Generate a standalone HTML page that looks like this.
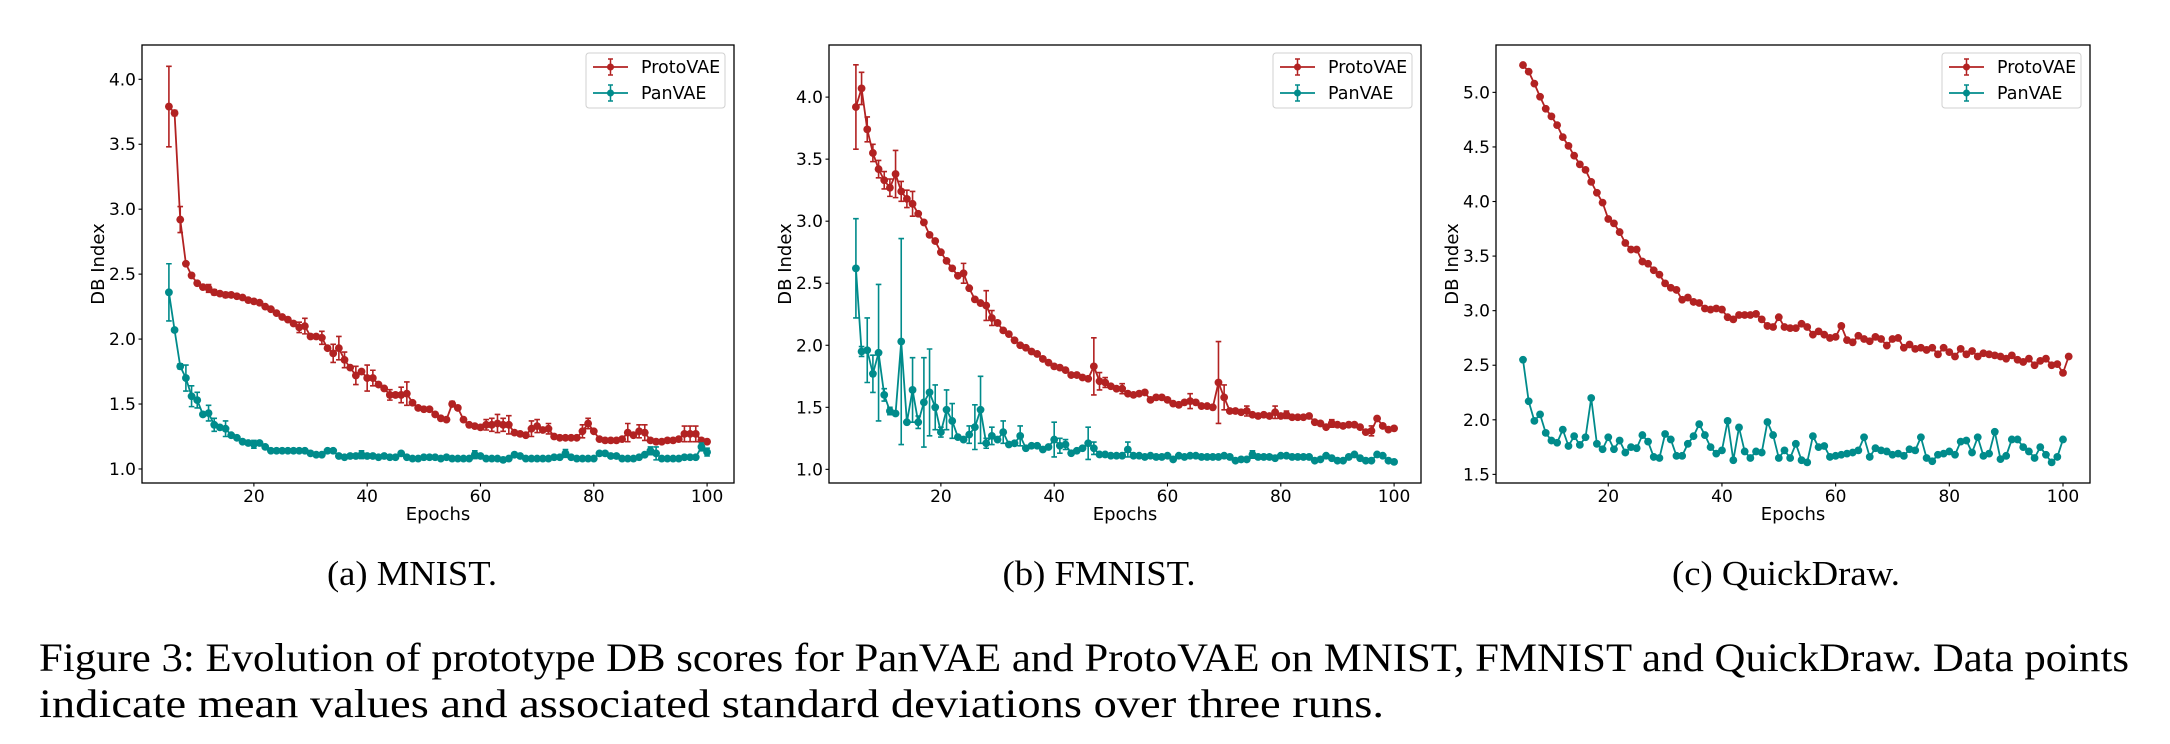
<!DOCTYPE html>
<html><head><meta charset="utf-8"><title>DB Index evolution</title>
<style>html,body{margin:0;padding:0;background:#fff;}svg{display:block;}</style></head>
<body>
<svg id="fig" xmlns="http://www.w3.org/2000/svg" width="2170" height="744" viewBox="0 0 2170 744" font-family="DejaVu Sans, Liberation Sans, sans-serif">
<g id="charts"></g>
<text x="412" y="585" text-anchor="middle" font-family="Liberation Serif, serif" font-size="35" textLength="170" lengthAdjust="spacingAndGlyphs">(a) MNIST.</text>
<text x="1099" y="585" text-anchor="middle" font-family="Liberation Serif, serif" font-size="35" textLength="193" lengthAdjust="spacingAndGlyphs">(b) FMNIST.</text>
<text x="1786" y="585" text-anchor="middle" font-family="Liberation Serif, serif" font-size="35" textLength="228" lengthAdjust="spacingAndGlyphs">(c) QuickDraw.</text>
<text x="39" y="671" font-family="Liberation Serif, serif" font-size="40" textLength="2090" lengthAdjust="spacingAndGlyphs">Figure 3: Evolution of prototype DB scores for PanVAE and ProtoVAE on MNIST, FMNIST and QuickDraw. Data points</text>
<text x="39" y="717" font-family="Liberation Serif, serif" font-size="40" textLength="1345" lengthAdjust="spacingAndGlyphs">indicate mean values and associated standard deviations over three runs.</text>
</svg>
<script>
// ---- data (epochs start at 5) ----
const mnistProto = [3.79,3.74,2.92,2.58,2.49,2.43,2.40,2.39,2.36,2.35,2.34,2.34,2.33,2.32,2.30,2.29,2.28,2.25,2.23,2.20,2.17,2.15,2.12,2.09,2.10,2.02,2.02,2.01,1.93,1.89,1.93,1.84,1.78,1.72,1.75,1.70,1.70,1.65,1.62,1.57,1.57,1.57,1.58,1.51,1.47,1.46,1.46,1.42,1.39,1.38,1.50,1.47,1.38,1.34,1.33,1.32,1.34,1.34,1.35,1.34,1.34,1.28,1.27,1.26,1.31,1.33,1.30,1.31,1.25,1.24,1.24,1.24,1.24,1.29,1.35,1.29,1.23,1.22,1.22,1.22,1.23,1.28,1.26,1.29,1.28,1.22,1.21,1.21,1.22,1.22,1.23,1.27,1.27,1.27,1.22,1.21];
const mnistPan = [2.36,2.07,1.79,1.70,1.56,1.53,1.42,1.43,1.34,1.32,1.31,1.26,1.24,1.21,1.20,1.19,1.20,1.17,1.14,1.14,1.14,1.14,1.14,1.14,1.14,1.12,1.11,1.11,1.14,1.14,1.10,1.09,1.10,1.10,1.11,1.10,1.10,1.09,1.10,1.09,1.09,1.12,1.09,1.08,1.08,1.09,1.09,1.09,1.08,1.09,1.08,1.08,1.08,1.08,1.11,1.10,1.08,1.08,1.08,1.07,1.08,1.11,1.10,1.08,1.08,1.08,1.08,1.08,1.09,1.09,1.12,1.09,1.08,1.08,1.08,1.08,1.12,1.12,1.10,1.10,1.08,1.08,1.08,1.09,1.11,1.14,1.12,1.08,1.08,1.08,1.08,1.09,1.09,1.09,1.17,1.13];
const fmnistProto = [3.92,4.07,3.74,3.55,3.42,3.33,3.27,3.38,3.24,3.18,3.14,3.06,2.99,2.89,2.84,2.75,2.68,2.62,2.56,2.58,2.46,2.37,2.34,2.32,2.22,2.18,2.12,2.09,2.04,2.00,1.98,1.95,1.93,1.89,1.86,1.83,1.82,1.80,1.76,1.76,1.74,1.73,1.83,1.71,1.70,1.67,1.65,1.65,1.61,1.60,1.61,1.62,1.56,1.58,1.58,1.56,1.53,1.52,1.54,1.55,1.54,1.51,1.51,1.50,1.70,1.58,1.47,1.47,1.46,1.47,1.44,1.43,1.44,1.43,1.46,1.43,1.44,1.42,1.42,1.42,1.43,1.38,1.37,1.34,1.37,1.36,1.35,1.36,1.36,1.34,1.30,1.31,1.41,1.35,1.32,1.33];
const fmnistPan = [2.62,1.95,1.96,1.77,1.94,1.60,1.47,1.45,2.03,1.38,1.64,1.38,1.54,1.62,1.50,1.30,1.48,1.39,1.26,1.24,1.28,1.34,1.48,1.21,1.27,1.24,1.30,1.20,1.21,1.27,1.17,1.19,1.19,1.16,1.18,1.24,1.19,1.20,1.13,1.15,1.17,1.21,1.17,1.12,1.12,1.11,1.11,1.11,1.16,1.11,1.11,1.10,1.11,1.10,1.10,1.11,1.08,1.11,1.10,1.11,1.11,1.10,1.10,1.10,1.10,1.11,1.10,1.07,1.08,1.08,1.12,1.10,1.10,1.10,1.09,1.11,1.11,1.10,1.10,1.10,1.10,1.07,1.08,1.11,1.09,1.07,1.07,1.10,1.12,1.09,1.07,1.07,1.12,1.11,1.07,1.06];
const qdProto = [5.25,5.19,5.08,4.96,4.85,4.78,4.70,4.59,4.51,4.42,4.34,4.29,4.18,4.08,3.99,3.84,3.80,3.72,3.62,3.56,3.56,3.45,3.43,3.37,3.33,3.25,3.21,3.19,3.10,3.12,3.08,3.07,3.02,3.01,3.02,3.01,2.94,2.92,2.96,2.96,2.96,2.97,2.92,2.86,2.85,2.94,2.85,2.84,2.84,2.88,2.85,2.78,2.81,2.78,2.75,2.76,2.86,2.73,2.71,2.77,2.74,2.72,2.76,2.74,2.68,2.74,2.75,2.66,2.69,2.65,2.66,2.64,2.66,2.60,2.66,2.62,2.58,2.65,2.60,2.63,2.58,2.61,2.60,2.59,2.58,2.56,2.59,2.55,2.53,2.56,2.50,2.54,2.56,2.50,2.51,2.43,2.58];
const qdPan = [2.55,2.17,1.99,2.05,1.88,1.81,1.79,1.91,1.76,1.85,1.77,1.84,2.20,1.78,1.73,1.84,1.73,1.81,1.70,1.75,1.74,1.86,1.80,1.66,1.65,1.87,1.82,1.67,1.67,1.78,1.85,1.96,1.86,1.75,1.69,1.72,1.99,1.63,1.93,1.71,1.65,1.71,1.70,1.98,1.86,1.65,1.72,1.65,1.78,1.63,1.61,1.85,1.75,1.76,1.66,1.67,1.68,1.69,1.70,1.72,1.84,1.66,1.74,1.72,1.71,1.68,1.69,1.67,1.73,1.72,1.84,1.65,1.62,1.68,1.69,1.71,1.68,1.80,1.81,1.70,1.84,1.67,1.69,1.89,1.64,1.67,1.82,1.82,1.75,1.71,1.65,1.75,1.68,1.61,1.66,1.82];
// sparse error overrides: [epoch, std]
const mnistProtoErr = [[5,.31],[6,.02],[7,.1],[12,.03],[13,.02],[15,.02],[28,.04],[29,.06],[32,.05],[34,.07],[35,.09],[36,.06],[38,.07],[40,.1],[41,.06],[44,.04],[46,.06],[47,.09],[55,.02],[61,.04],[62,.05],[63,.07],[64,.05],[65,.07],[69,.06],[70,.05],[72,.04],[78,.05],[79,.04],[86,.07],[88,.05],[89,.06],[96,.06],[97,.06],[98,.06]];
const mnistPanErr = [[5,.22],[7,.02],[8,.1],[9,.08],[10,.06],[12,.06],[13,.05],[15,.06],[20,.03],[39,.03],[59,.03],[75,.03],[90,.03],[91,.05],[99,.03],[100,.03]];
const fmnistProtoErr = [[5,.34],[6,.13],[7,.1],[8,.07],[9,.07],[10,.07],[11,.07],[12,.19],[13,.08],[14,.07],[15,.1],[24,.08],[28,.12],[29,.06],[47,.23],[48,.07],[49,.04],[52,.04],[64,.06],[69,.33],[70,.1],[74,.04],[79,.05],[81,.03],[89,.03],[96,.04]];
const fmnistPanErr = [[5,.4],[6,.04],[7,.26],[8,.15],[9,.55],[10,.05],[11,.03],[13,.83],[15,.26],[16,.05],[17,.36],[18,.35],[19,.18],[20,.04],[21,.16],[22,.14],[25,.07],[26,.18],[27,.27],[28,.04],[29,.07],[31,.09],[34,.08],[40,.14],[41,.06],[42,.04],[46,.13],[47,.05],[53,.06],[75,.03]];
const qdProtoErr = [];
const qdPanErr = [];
const xTicks = [20,40,60,80,100];
const yTicksA = [1.0,1.5,2.0,2.5,3.0,3.5,4.0];
const yTicksB = [1.0,1.5,2.0,2.5,3.0,3.5,4.0];
const yTicksC = [1.5,2.0,2.5,3.0,3.5,4.0,4.5,5.0];
const seriesNames = ["ProtoVAE","PanVAE"];
const RED = "#b22222", TEAL = "#008b8b";
const NS = "http://www.w3.org/2000/svg";
function mk(tag, attrs, parent){ const e=document.createElementNS(NS,tag); for(const k in attrs) e.setAttribute(k,attrs[k]); if(parent) parent.appendChild(e); return e; }

const panels = [
 {id:"mnist", box:[142,45,734,483], ylim:[0.892,4.264], yt:yTicksA, s:[[mnistProto,mnistProtoErr,RED],[mnistPan,mnistPanErr,TEAL]]},
 {id:"fmnist", box:[829,45,1421,483], ylim:[0.89,4.42], yt:yTicksB, s:[[fmnistProto,fmnistProtoErr,RED],[fmnistPan,fmnistPanErr,TEAL]]},
 {id:"quickdraw", box:[1496,45,2090,483], ylim:[1.421,5.434], yt:yTicksC, s:[[qdProto,qdProtoErr,RED],[qdPan,qdPanErr,TEAL]]}
];
const root = document.getElementById("charts");
panels.forEach(p=>{
  const [L,T,R,B]=p.box;
  const xs = v => L + (v-0.25)/(104.5)*(R-L);
  const ys = v => B - (v-p.ylim[0])/(p.ylim[1]-p.ylim[0])*(B-T);
  const g = mk("g",{},root);
  
  
  p.s.forEach((ser,si)=>{
    const [vals, errs, col] = ser;
    const sg = mk("g",{},g);
    
    
    const em = {}; errs.forEach(e=>em[e[0]]=e[1]);
    let d="";
    vals.forEach((v,i)=>{ const e=5+i; d += (i?"L":"M")+xs(e).toFixed(2)+","+ys(v).toFixed(2); });
    vals.forEach((v,i)=>{
      const e=5+i, sd = em[e]!==undefined?em[e]:0.012, x=xs(e);
      const y1=ys(v+sd), y2=ys(v-sd);
      const eb = mk("path",{d:`M${x},${y1}V${y2}M${x-2.8},${y1}H${x+2.8}M${x-2.8},${y2}H${x+2.8}`,stroke:col,"stroke-width":1.6,fill:"none"},sg);
      
      
    });
    const ln = mk("path",{d:d,stroke:col,"stroke-width":1.8,fill:"none","stroke-linejoin":"round"},sg);
    
    
    vals.forEach((v,i)=>{
      const c = mk("circle",{cx:xs(5+i),cy:ys(v),r:3.9,fill:col},sg);
      
      
    });
  });
  const fr = mk("rect",{x:L,y:T,width:R-L,height:B-T,fill:"none",stroke:"#000","stroke-width":1.3},g);
  
  
  p.yt.forEach(t=>{
    const y=ys(t);
    const tk = mk("line",{x1:L-3.5,x2:L,y1:y,y2:y,stroke:"#000","stroke-width":1.1},g);
    
    
    const tx = mk("text",{x:L-6,y:y+6,"text-anchor":"end","font-size":17},g);
    tx.textContent=t.toFixed(1);
    
    
  });
  xTicks.forEach(t=>{
    const x=xs(t);
    const tk = mk("line",{x1:x,x2:x,y1:B,y2:B+3.5,stroke:"#000","stroke-width":1.1},g);
    
    
    const tx = mk("text",{x:x,y:B+19,"text-anchor":"middle","font-size":17},g);
    tx.textContent=String(t);
    
    
  });
  const xl = mk("text",{x:(L+R)/2,y:B+37,"text-anchor":"middle","font-size":18},g);
  xl.textContent="Epochs";
  
  
  const yl = mk("text",{x:0,y:0,"text-anchor":"middle","font-size":18,transform:`translate(${L-38},${(T+B)/2}) rotate(-90)`},g);
  yl.textContent="DB Index";
  
  
  const lx=R-9-139, ly=T+8;
  const lg = mk("g",{},g);
  
  
  mk("rect",{x:lx,y:ly,width:139,height:55,rx:3,fill:"#fff","fill-opacity":0.8,stroke:"#d0d0d0","stroke-width":1},lg);
  [[RED,seriesNames[0],ly+14],[TEAL,seriesNames[1],ly+40]].forEach(it=>{
    const [col,name,cy]=it;
    const en = mk("g",{},lg);
    
    
    mk("line",{x1:lx+7,x2:lx+42,y1:cy,y2:cy,stroke:col,"stroke-width":1.8},en);
    mk("path",{d:`M${lx+24.5},${cy-8}V${cy+8}M${lx+22},${cy-8}H${lx+27}M${lx+22},${cy+8}H${lx+27}`,stroke:col,"stroke-width":1.5,fill:"none"},en);
    mk("circle",{cx:lx+24.5,cy:cy,r:3.5,fill:col},en);
    const t = mk("text",{x:lx+55,y:cy+6,"font-size":17.5},en);
    t.textContent=name;
  });
});
</script>
</body></html>
